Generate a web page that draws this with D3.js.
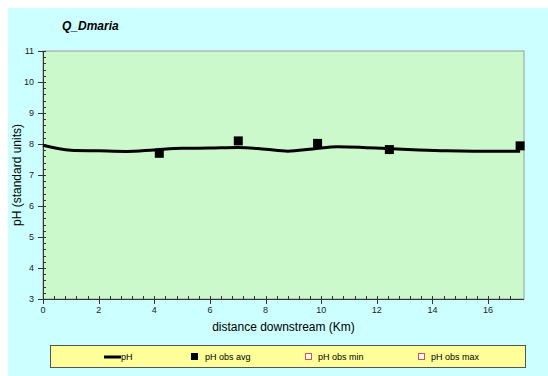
<!DOCTYPE html>
<html><head><meta charset="utf-8">
<script src="https://cdn.jsdelivr.net/npm/d3@7"></script>
<style>body{margin:0;background:#fff}svg{display:block;font-family:Arial,"Liberation Sans",sans-serif}</style>
</head><body><svg id="c" width="548" height="376"></svg>
<script>
const title = "Q_Dmaria";
const xLabel = "distance downstream (Km)";
const yLabel = "pH (standard units)";
const modelKm = [0, 1, 2, 3, 4, 5, 6, 7, 8, 8.8, 9.7, 10.6, 11.5, 12.5, 13.5, 14.5, 15.5, 16.3, 17.15];
const modelPH = [7.96, 7.80, 7.78, 7.76, 7.81, 7.86, 7.87, 7.89, 7.83, 7.77, 7.84, 7.91, 7.89, 7.85, 7.81, 7.78, 7.77, 7.77, 7.77];
const obsKm = [4.18, 7.02, 9.87, 12.45, 17.15];
const obsAvg = [7.70, 8.10, 8.02, 7.82, 7.94];
const xTicks = [0, 2, 4, 6, 8, 10, 12, 14, 16];
const yTicks = [3, 4, 5, 6, 7, 8, 9, 10, 11];
const legendItems = ["pH", "pH obs avg", "pH obs min", "pH obs max"];

const svg = d3.select("#c");
svg.append("rect").attr("x", 8).attr("y", 8).attr("width", 540).attr("height", 368).attr("fill", "#ccffff");

const L = 43, R = 524, T = 51, B = 299;
const x = d3.scaleLinear().domain([0, 17.29]).range([L, R]);
const y = d3.scaleLinear().domain([3, 11]).range([B, T]);

svg.append("rect").attr("x", L).attr("y", T).attr("width", R - L).attr("height", B - T)
  .attr("fill", "#ccf9cc").attr("stroke", "#999").attr("stroke-width", 1);

svg.append("text").attr("x", 62).attr("y", 30).attr("font-size", 12).attr("font-weight", "bold")
  .attr("font-style", "italic").attr("fill", "#000").text(title);

// y axis
const yMinor = d3.range(3, 11.001, 0.2);
const ga = svg.append("g").attr("stroke", "#333").attr("stroke-width", 1);
ga.append("line").attr("x1", L + 0.5).attr("x2", L + 0.5).attr("y1", T).attr("y2", B);
ga.selectAll(".ym").data(yMinor).join("line")
  .attr("x1", L).attr("x2", L + 3).attr("y1", d => Math.round(y(d)) + 0.5).attr("y2", d => Math.round(y(d)) + 0.5);
ga.selectAll(".yM").data(yTicks).join("line")
  .attr("x1", L - 5).attr("x2", L + 3).attr("y1", d => Math.round(y(d)) + 0.5).attr("y2", d => Math.round(y(d)) + 0.5);
svg.selectAll(".yl").data(yTicks).join("text").attr("x", 34).attr("y", d => y(d) + 3)
  .attr("text-anchor", "end").attr("font-size", 9).attr("fill", "#222").text(d => d);

// x axis
const xMinor = d3.range(0, 17.2, 0.4);
ga.append("line").attr("x1", L).attr("x2", R).attr("y1", B + 0.5).attr("y2", B + 0.5);
ga.selectAll(".xm").data(xMinor).join("line")
  .attr("x1", d => Math.round(x(d)) + 0.5).attr("x2", d => Math.round(x(d)) + 0.5).attr("y1", B - 3).attr("y2", B);
ga.selectAll(".xM").data(xTicks).join("line")
  .attr("x1", d => Math.round(x(d)) + 0.5).attr("x2", d => Math.round(x(d)) + 0.5).attr("y1", B - 3).attr("y2", B + 5);
svg.selectAll(".xl").data(xTicks).join("text").attr("x", d => x(d)).attr("y", B + 14)
  .attr("text-anchor", "middle").attr("font-size", 9).attr("fill", "#222").text(d => d);

svg.append("text").attr("x", (L + R) / 2).attr("y", 331).attr("text-anchor", "middle")
  .attr("font-size", 12).attr("fill", "#000").text(xLabel);
svg.append("text").attr("transform", `translate(21,${(T + B) / 2}) rotate(-90)`).attr("text-anchor", "middle")
  .attr("font-size", 12).attr("fill", "#000").text(yLabel);

// model line
const line = d3.line().x((d, i) => x(modelKm[i])).y(d => y(d)).curve(d3.curveMonotoneX);
svg.append("path").attr("d", line(modelPH)).attr("fill", "none").attr("stroke", "#000").attr("stroke-width", 3);

// obs avg
svg.selectAll(".ob").data(obsAvg).join("rect")
  .attr("x", (d, i) => x(obsKm[i]) - 4.5).attr("y", d => y(d) - 4.5)
  .attr("width", 9).attr("height", 9).attr("fill", "#000");

// legend
svg.append("rect").attr("x", 50.5).attr("y", 345.5).attr("width", 475).attr("height", 22)
  .attr("fill", "#ffff99").attr("stroke", "#555").attr("stroke-width", 1);
const lg = svg.append("g").attr("font-size", 9).attr("fill", "#000");
const ly = 357;
lg.append("line").attr("x1", 104).attr("x2", 121).attr("y1", ly).attr("y2", ly).attr("stroke", "#000").attr("stroke-width", 3);
lg.append("text").attr("x", 121).attr("y", ly + 3).text(legendItems[0]);
lg.append("rect").attr("x", 191).attr("y", ly - 4).attr("width", 7).attr("height", 7).attr("fill", "#000");
lg.append("text").attr("x", 205).attr("y", ly + 3).text(legendItems[1]);
lg.append("rect").attr("x", 305.5).attr("y", ly - 3.5).attr("width", 6).attr("height", 6).attr("fill", "#fff").attr("stroke", "#e05050");
lg.append("text").attr("x", 318).attr("y", ly + 3).text(legendItems[2]);
lg.append("rect").attr("x", 418.5).attr("y", ly - 3.5).attr("width", 6).attr("height", 6).attr("fill", "#fff").attr("stroke", "#e05050");
lg.append("text").attr("x", 431).attr("y", ly + 3).text(legendItems[3]);
</script></body></html>
